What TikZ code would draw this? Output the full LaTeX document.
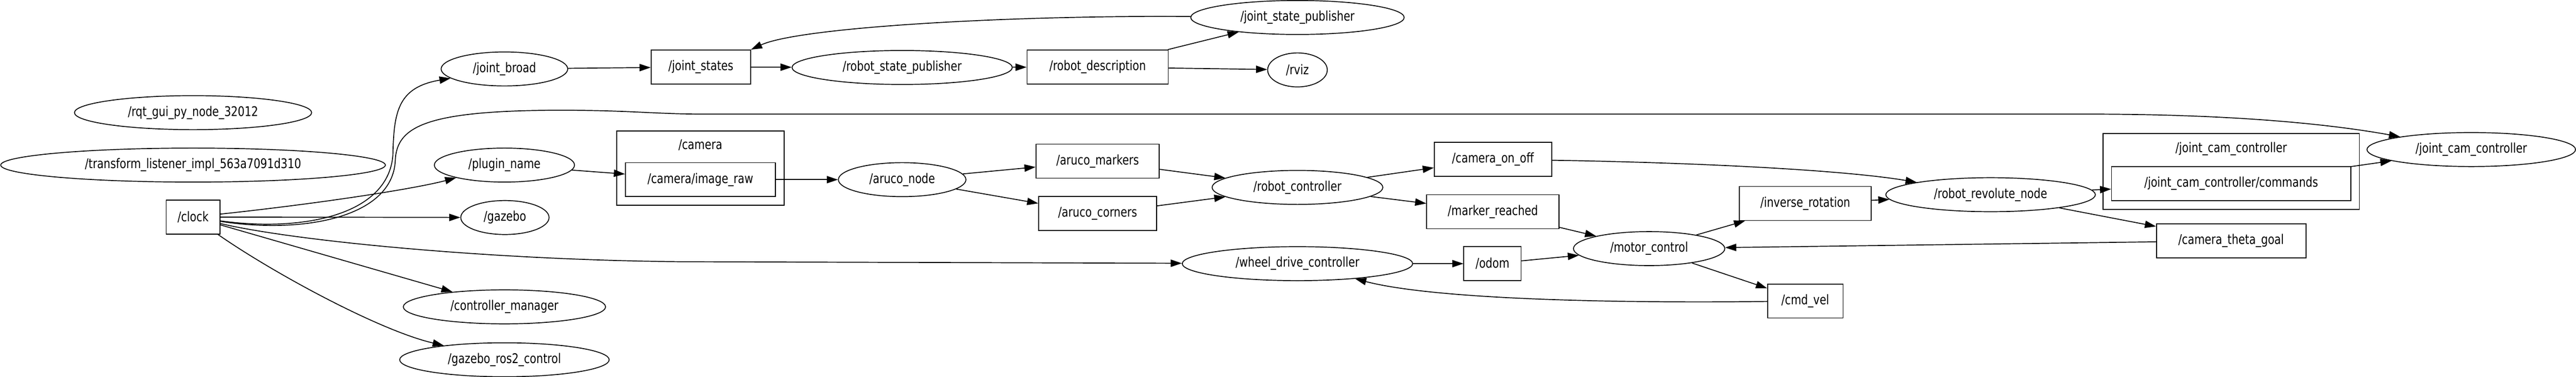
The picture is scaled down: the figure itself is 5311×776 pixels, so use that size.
\documentclass[tikz,border=0pt]{standalone}
\usepackage{fontspec}
\setmainfont{DejaVu Sans}
\usepackage{graphicx}
\usepackage{tikz}
\usetikzlibrary{arrows.meta, shapes.geometric, fit}
\newcommand{\ros}[1]{\scalebox{1}[1.25]{\detokenize{#1}}}

\begin{document}
\begin{tikzpicture}[x=1pt, y=-1pt, line width=1.8pt, >={Triangle[length=23pt, width=15pt]}, nodestyle/.style = {ellipse, draw, inner sep=0pt, minimum height=70pt}, topicstyle/.style = {rectangle, draw, inner sep=0pt, minimum height=70pt}, outerstyle/.style = {rectangle, draw, inner sep=17pt}, labelstyle/.style={draw=none, inner sep=0pt}]
  \tikzstyle{every node}=[font=\fontsize{22}{26}\selectfont]
  \useasboundingbox (0,0) rectangle (5311,776);

  % lonely nodes
  \node[nodestyle, minimum width=489pt] (rqt_gui) at (398,232) {\ros{/rqt_gui_py_node_32012}};
  \node[nodestyle, minimum width=793pt] (transform_listener) at (398,340) {\ros{/transform_listener_impl_563a7091d310}};

  % clock and its listeners
  \node[topicstyle, minimum width=111pt] (clock) at (398,447) {\ros{/clock}};
  \node[nodestyle, minimum width=261pt] (joint_broad) at (1040,142) {\ros{/joint_broad}};
  \node[nodestyle, minimum width=289pt] (plugin_name) at (1040,340) {\ros{/plugin_name}};
  \node[nodestyle, minimum width=182pt] (gazebo) at (1041,448) {\ros{/gazebo}};
  \node[nodestyle, minimum width=417pt] (controller_manager) at (1040,632) {\ros{/controller_manager}};
  \node[nodestyle, minimum width=432pt] (gazebo_ros2_control) at (1040,741) {\ros{/gazebo_ros2_control}};

  % robot state
  \node[topicstyle, minimum width=205pt] (joint_states) at (1445,138) {\ros{/joint_states}};
  \node[nodestyle, minimum width=454pt] (robot_state_publisher) at (1860,139) {\ros{/robot_state_publisher}};
  \node[topicstyle, minimum width=291pt] (robot_description) at (2263,138) {\ros{/robot_description}};
  \node[nodestyle, minimum width=440pt] (joint_state_publisher) at (2675,36) {\ros{/joint_state_publisher}};
  \node[nodestyle, minimum width=123pt] (rviz) at (2675,144) {\ros{/rviz}};

  % camera
  \node[labelstyle] (camera_lbl) at (1444,299) {\ros{/camera}};
  \node[topicstyle, minimum width=309pt] (image_raw) at (1444,370) {\ros{/camera/image_raw}};
  \node[outerstyle, fit={(camera_lbl) (image_raw)}] (camera) {};

  % aruco
  \node[nodestyle, minimum width=263pt] (aruco_node) at (1860,370) {\ros{/aruco_node}};
  \node[topicstyle, minimum width=254pt] (aruco_markers) at (2263,332) {\ros{/aruco_markers}};
  \node[topicstyle, minimum width=243pt] (aruco_corners) at (2263,440) {\ros{/aruco_corners}};
  \node[nodestyle, minimum width=352pt] (robot_controller) at (2675,386) {\ros{/robot_controller}};
  \node[topicstyle, minimum width=242pt] (camera_on_off) at (3078,328) {\ros{/camera_on_off}};
  \node[topicstyle, minimum width=273pt] (marker_reached) at (3078,436) {\ros{/marker_reached}};

  % wheels
  \node[nodestyle, minimum width=475pt] (wheel_drive_controller) at (2675,543) {\ros{/wheel_drive_controller}};
  \node[topicstyle, minimum width=118pt] (odom) at (3077,543) {\ros{/odom}};
  \node[nodestyle, minimum width=312pt] (motor_control) at (3400,512) {\ros{/motor_control}};
  \node[topicstyle, minimum width=272pt] (inverse_rotation) at (3722,419) {\ros{/inverse_rotation}};
  \node[topicstyle, minimum width=156pt] (cmd_vel) at (3722,620) {\ros{/cmd_vel}};

  % camera joint
  \node[nodestyle, minimum width=432pt] (robot_revolute_node) at (4104,401) {\ros{/robot_revolute_node}};
  \node[labelstyle] (jcc_lbl) at (4600,307) {\ros{/joint_cam_controller}};
  \node[topicstyle, minimum width=493pt] (commands) at (4600,378) {\ros{/joint_cam_controller/commands}};
  \node[outerstyle, fit={(jcc_lbl) (commands)}] (jcc_ns) {};
  \node[topicstyle, minimum width=308pt] (camera_theta_goal) at (4600,496) {\ros{/camera_theta_goal}};
  \node[nodestyle, minimum width=430pt] (joint_cam_controller) at (5095,308) {\ros{/joint_cam_controller}};

  % arrows
  \draw[->] (clock) .. controls (620,478) and (800,445) .. (810,320) .. controls (812,230) and (820,180) .. (joint_broad);
  \draw[->] (clock) .. controls (620,482) and (810,450) .. (815,330) .. controls (818,260) and (880,228) .. (1150,227) .. controls (1300,227) and (1350,235) .. (1450,235) -- (4300,235) .. controls (4600,235) and (4800,255) .. (joint_cam_controller);
  \draw[->] (clock) .. controls (650,420) and (850,390) .. (plugin_name);
  \draw[->] (clock) -- (gazebo);
  \draw[->] (clock) .. controls (600,495) and (1000,535) .. (1400,539) -- (wheel_drive_controller);
  \draw[->] (clock) -- (controller_manager);
  \draw[->] (clock) .. controls (560,560) and (780,680) .. (gazebo_ros2_control);
  \draw[->] (joint_broad) -- (joint_states);
  \draw[->] (joint_states) -- (robot_state_publisher);
  \draw[->] (robot_state_publisher) -- (robot_description);
  \draw[->] (robot_description) -- (joint_state_publisher);
  \draw[->] (robot_description) -- (rviz);
  \draw[->] (joint_state_publisher) .. controls (2100,31) and (1650,55) .. (joint_states.north east);
  \draw[->] (plugin_name) -- (image_raw);
  \draw[->] (image_raw) -- (aruco_node);
  \draw[->] (aruco_node) -- (aruco_markers);
  \draw[->] (aruco_node) -- (aruco_corners);
  \draw[->] (aruco_markers) -- (robot_controller);
  \draw[->] (aruco_corners) -- (robot_controller);
  \draw[->] (robot_controller) -- (camera_on_off);
  \draw[->] (robot_controller) -- (marker_reached);
  \draw[->] (camera_on_off) .. controls (3500,335) and (3800,350) .. (robot_revolute_node);
  \draw[->] (marker_reached) -- (motor_control);
  \draw[->] (wheel_drive_controller) -- (odom);
  \draw[->] (odom) -- (motor_control);
  \draw[->] (motor_control) -- (inverse_rotation);
  \draw[->] (motor_control) -- (cmd_vel);
  \draw[->] (cmd_vel) .. controls (3300,625) and (2950,615) .. (wheel_drive_controller);
  \draw[->] (inverse_rotation) -- (robot_revolute_node);
  \draw[->] (robot_revolute_node) -- (commands);
  \draw[->] (robot_revolute_node) -- (camera_theta_goal);
  \draw[->] (camera_theta_goal) -- (motor_control);
  \draw[->] (commands) -- (joint_cam_controller);

\end{tikzpicture}
\end{document}
